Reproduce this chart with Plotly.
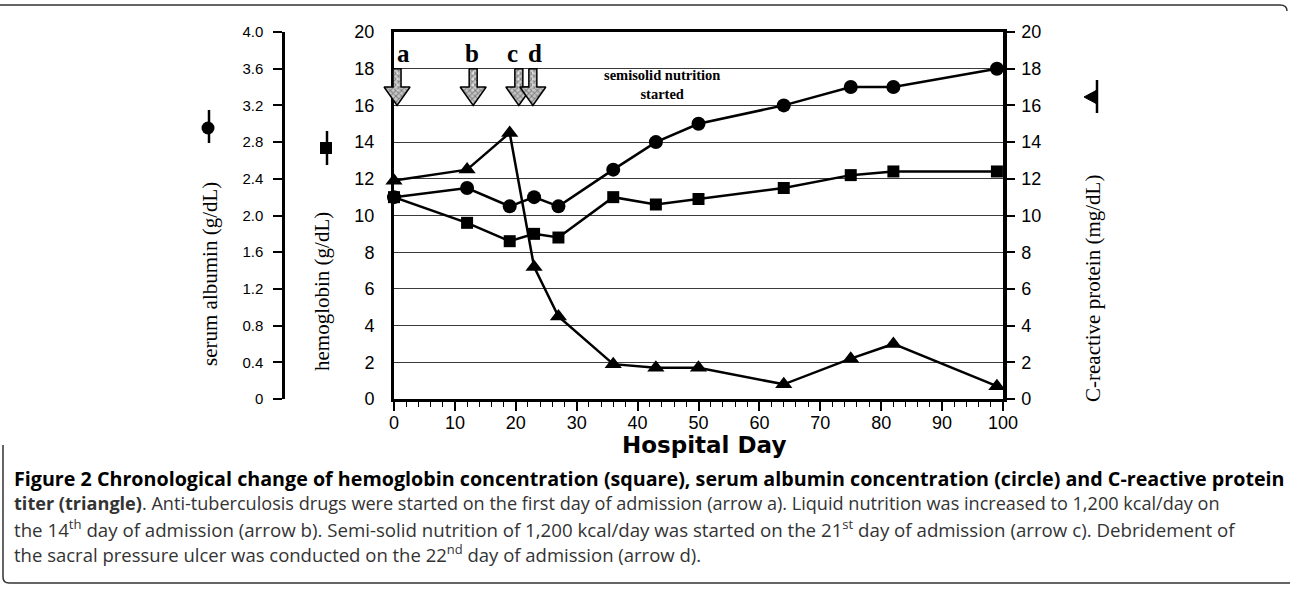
import plotly.graph_objects as go

# ---------------- data ----------------
days = [0, 12, 19, 23, 27, 36, 43, 50, 64, 75, 82, 99]
albumin = [2.2, 2.3, 2.1, 2.2, 2.1, 2.5, 2.8, 3.0, 3.2, 3.4, 3.4, 3.6]        # g/dL (circle)
hemoglobin = [11.0, 9.6, 8.6, 9.0, 8.8, 11.0, 10.6, 10.9, 11.5, 12.2, 12.4, 12.4]  # g/dL (square)
crp = [11.9, 12.5, 14.5, 7.2, 4.5, 1.9, 1.7, 1.7, 0.8, 2.2, 3.0, 0.7]         # mg/dL (triangle)

arrow_labels = ["a", "b", "c", "d"]
arrow_days = [0.5, 13, 20.5, 22.8]

x_ticks = list(range(0, 101, 10))
hb_ticks = list(range(0, 21, 2))
alb_tickvals = [0, 0.4, 0.8, 1.2, 1.6, 2.0, 2.4, 2.8, 3.2, 3.6, 4.0]
alb_ticktext = ["0", "0.4", "0.8", "1.2", "1.6", "2.0", "2.4", "2.8", "3.2", "3.6", "4.0"]

caption_lines = [
    "<b>Figure 2 Chronological change of hemoglobin concentration (square), serum albumin concentration (circle) and C-reactive protein</b>",
    "<b>titer (triangle)</b>. Anti-tuberculosis drugs were started on the first day of admission (arrow a). Liquid nutrition was increased to 1,200 kcal/day on",
    "the 14<sup>th</sup> day of admission (arrow b). Semi-solid nutrition of 1,200 kcal/day was started on the 21<sup>st</sup> day of admission (arrow c). Debridement of",
    "the sacral pressure ulcer was conducted on the 22<sup>nd</sup> day of admission (arrow d).",
]
caption_sizes = [19.7, 18.1, 18.7, 18.5]

# ---------------- layout geometry (pixels) ----------------
W, H = 1290, 589
PX0, PX1 = 394, 1003   # plot left/right
PY0, PY1 = 32, 399     # plot top/bottom


def xp(px):
    return px / W


def yp(py):
    return 1 - py / H


ppd = (PX1 - PX0) / 100.0   # pixels per day
ppu = (PY1 - PY0) / 20.0    # pixels per unit

fig = go.Figure()

line_style = dict(color="black", width=2.5)

fig.add_trace(go.Scatter(x=days, y=hemoglobin, mode="lines+markers", line=line_style,
                         marker=dict(symbol="square", size=12, color="black"),
                         xaxis="x", yaxis="y", showlegend=False, cliponaxis=False))
fig.add_trace(go.Scatter(x=days, y=crp, mode="lines+markers", line=line_style,
                         marker=dict(symbol="triangle-up", size=15, color="black"),
                         xaxis="x", yaxis="y2", showlegend=False, cliponaxis=False))
fig.add_trace(go.Scatter(x=days, y=albumin, mode="lines+markers", line=line_style,
                         marker=dict(symbol="circle", size=14, color="black"),
                         xaxis="x", yaxis="y3", showlegend=False, cliponaxis=False))

# arrows (hatched down-arrows) on an overlay axis with the same scale as the main plot
hs = 4.0 / ppd
hh = 13.0 / ppd
y_top, y_mid, y_tip = 18.0, 17.0, 16.0
for d in arrow_days:
    xs = [d - hs, d + hs, d + hs, d + hh, d, d - hh, d - hs, d - hs]
    ys = [y_top, y_top, y_mid, y_mid, y_tip, y_mid, y_mid, y_top]
    fig.add_trace(go.Scatter(x=xs, y=ys, mode="lines", fill="toself",
                             fillcolor="#9a9a9a",
                             fillpattern=dict(shape="x", size=4, solidity=0.45,
                                              fgcolor="#333333", bgcolor="#c8c8c8"),
                             line=dict(color="black", width=1.5),
                             xaxis="x2", yaxis="y4", showlegend=False, hoverinfo="skip"))
    fig.add_trace(go.Scatter(x=[d, d], y=[y_top - 0.15, y_mid - 0.2], mode="lines",
                             line=dict(color="white", width=1, dash="dot"),
                             xaxis="x2", yaxis="y4", showlegend=False, hoverinfo="skip"))

sans = "Liberation Sans, Arial, sans-serif"
tickfont = dict(family=sans, size=18, color="black")

fig.update_layout(
    width=W, height=H,
    margin=dict(l=0, r=0, t=0, b=0),
    paper_bgcolor="white",
    plot_bgcolor="rgba(0,0,0,0)",
    xaxis=dict(domain=[xp(PX0), xp(PX1)], range=[0, 100], tickvals=x_ticks,
               ticks="outside", ticklen=9, tickwidth=1.5, tickcolor="black",
               minor=dict(dtick=2, ticks="outside", ticklen=5, tickwidth=1, tickcolor="black"),
               showline=True, linewidth=3, linecolor="black", mirror=True,
               showgrid=False, zeroline=False, tickfont=tickfont, anchor="y",
               ticklabelstandoff=-4, automargin=False),
    yaxis=dict(domain=[yp(PY1), yp(PY0)], range=[0, 20], tickvals=hb_ticks,
               ticks="", showline=True, linewidth=3, linecolor="black",
               showgrid=True, gridcolor="#3a3a3a", gridwidth=1, zeroline=False,
               tickfont=tickfont, ticklabelstandoff=13, anchor="x", automargin=False),
    yaxis2=dict(overlaying="y", side="right", range=[0, 20], tickvals=hb_ticks,
                ticks="outside", ticklen=8, tickwidth=1.5, tickcolor="black",
                showline=True, linewidth=3.5, linecolor="black", showgrid=False,
                zeroline=False, tickfont=tickfont, ticklabelstandoff=3, anchor="x",
                automargin=False),
    yaxis3=dict(overlaying="y", side="left", anchor="free", position=xp(283),
                range=[0, 4], tickvals=alb_tickvals, ticktext=alb_ticktext,
                ticks="outside", ticklen=9, tickwidth=1.5, tickcolor="black",
                showline=True, linewidth=2.5, linecolor="black", showgrid=False,
                zeroline=False, tickfont=dict(family=sans, size=15, color="black"),
                ticklabelstandoff=7, automargin=False),
    xaxis2=dict(domain=[0, 1], range=[-PX0 / ppd, (W - PX0) / ppd], visible=False,
                anchor="y4", fixedrange=True),
    yaxis4=dict(domain=[0, 1], range=[-(H - PY1) / ppu, PY1 / ppu], visible=False,
                anchor="x2", fixedrange=True),
)

annotations = []
serif = "Liberation Serif, Times New Roman, serif"
# arrow letters
label_shift = [6, -1, -6, 2]
for lab, d, sh in zip(arrow_labels, arrow_days, label_shift):
    annotations.append(dict(x=d, y=18.85, xref="x", yref="y", text=f"<b>{lab}</b>",
                            showarrow=False, xshift=sh, xanchor="center", yanchor="middle",
                            font=dict(family=serif, size=25, color="black")))
annotations.append(dict(x=44, y=17.15, xref="x", yref="y",
                        text="<b>semisolid nutrition<br>started</b>", showarrow=False,
                        xanchor="center", yanchor="middle",
                        font=dict(family=serif, size=14.5, color="black")))
# axis titles
for tx, cx, cy in [("serum albumin (g/dL)", 210, 274),
                   ("hemoglobin (g/dL)", 322, 292),
                   ("C-reactive protein (mg/dL)", 1093, 289)]:
    annotations.append(dict(x=xp(cx), y=yp(cy), xref="paper", yref="paper",
                            text=tx, textangle=-90, showarrow=False,
                            xanchor="center", yanchor="middle",
                            font=dict(family=serif, size=21, color="black")))
annotations.append(dict(x=xp(704), y=yp(445), xref="paper", yref="paper",
                        text="<b>Hospital Day</b>", showarrow=False,
                        xanchor="center", yanchor="middle",
                        font=dict(family="DejaVu Sans, sans-serif", size=23,
                                  color="black")))
# caption
cap_y = [478, 503, 528, 553]
for i, (t, cy, fs) in enumerate(zip(caption_lines, cap_y, caption_sizes)):
    annotations.append(dict(x=xp(12), y=yp(cy), xref="paper", yref="paper", text=t,
                            xanchor="left", yanchor="middle", showarrow=False, align="left",
                            font=dict(family="Open Sans, Noto Sans, sans-serif", size=fs,
                                      color="black" if i == 0 else "#333333")))
fig.update_layout(annotations=annotations)

# decorations: legend symbols next to axis titles, border box
shapes = []
# circle symbol (albumin)
shapes.append(dict(type="circle", xref="paper", yref="paper",
                   x0=xp(201.5), x1=xp(214.5), y0=yp(134.5), y1=yp(121.5),
                   fillcolor="black", line=dict(color="black", width=0)))
shapes.append(dict(type="line", xref="paper", yref="paper", x0=xp(209), x1=xp(209),
                   y0=yp(110), y1=yp(143), line=dict(color="black", width=2.5)))
# square symbol (hemoglobin)
shapes.append(dict(type="rect", xref="paper", yref="paper",
                   x0=xp(320), x1=xp(332), y0=yp(154), y1=yp(142),
                   fillcolor="black", line=dict(color="black", width=0)))
shapes.append(dict(type="line", xref="paper", yref="paper", x0=xp(327), x1=xp(327),
                   y0=yp(131), y1=yp(165), line=dict(color="black", width=2.5)))
# triangle symbol (CRP)
shapes.append(dict(type="path", xref="paper", yref="paper",
                   path=f"M {xp(1084)},{yp(97)} L {xp(1097)},{yp(90)} L {xp(1097)},{yp(104)} Z",
                   fillcolor="black", line=dict(color="black", width=1)))
shapes.append(dict(type="line", xref="paper", yref="paper", x0=xp(1097), x1=xp(1097),
                   y0=yp(80), y1=yp(113), line=dict(color="black", width=2.5)))
# border
shapes.append(dict(type="path", xref="paper", yref="paper",
                   path=(f"M {xp(0)},{yp(5)} L {xp(1280)},{yp(5)} "
                         f"Q {xp(1287)},{yp(5)} {xp(1287)},{yp(11)}"),
                   line=dict(color="#333333", width=1.5)))
shapes.append(dict(type="path", xref="paper", yref="paper",
                   path=(f"M {xp(3)},{yp(445)} L {xp(3)},{yp(577)} "
                         f"Q {xp(3)},{yp(583)} {xp(9)},{yp(583)} L {xp(1290)},{yp(583)}"),
                   line=dict(color="#333333", width=1.5)))
fig.update_layout(shapes=shapes)

fig.write_html("out.html", config={"displayModeBar": False},
               post_script="document.body.style.margin='0';")
